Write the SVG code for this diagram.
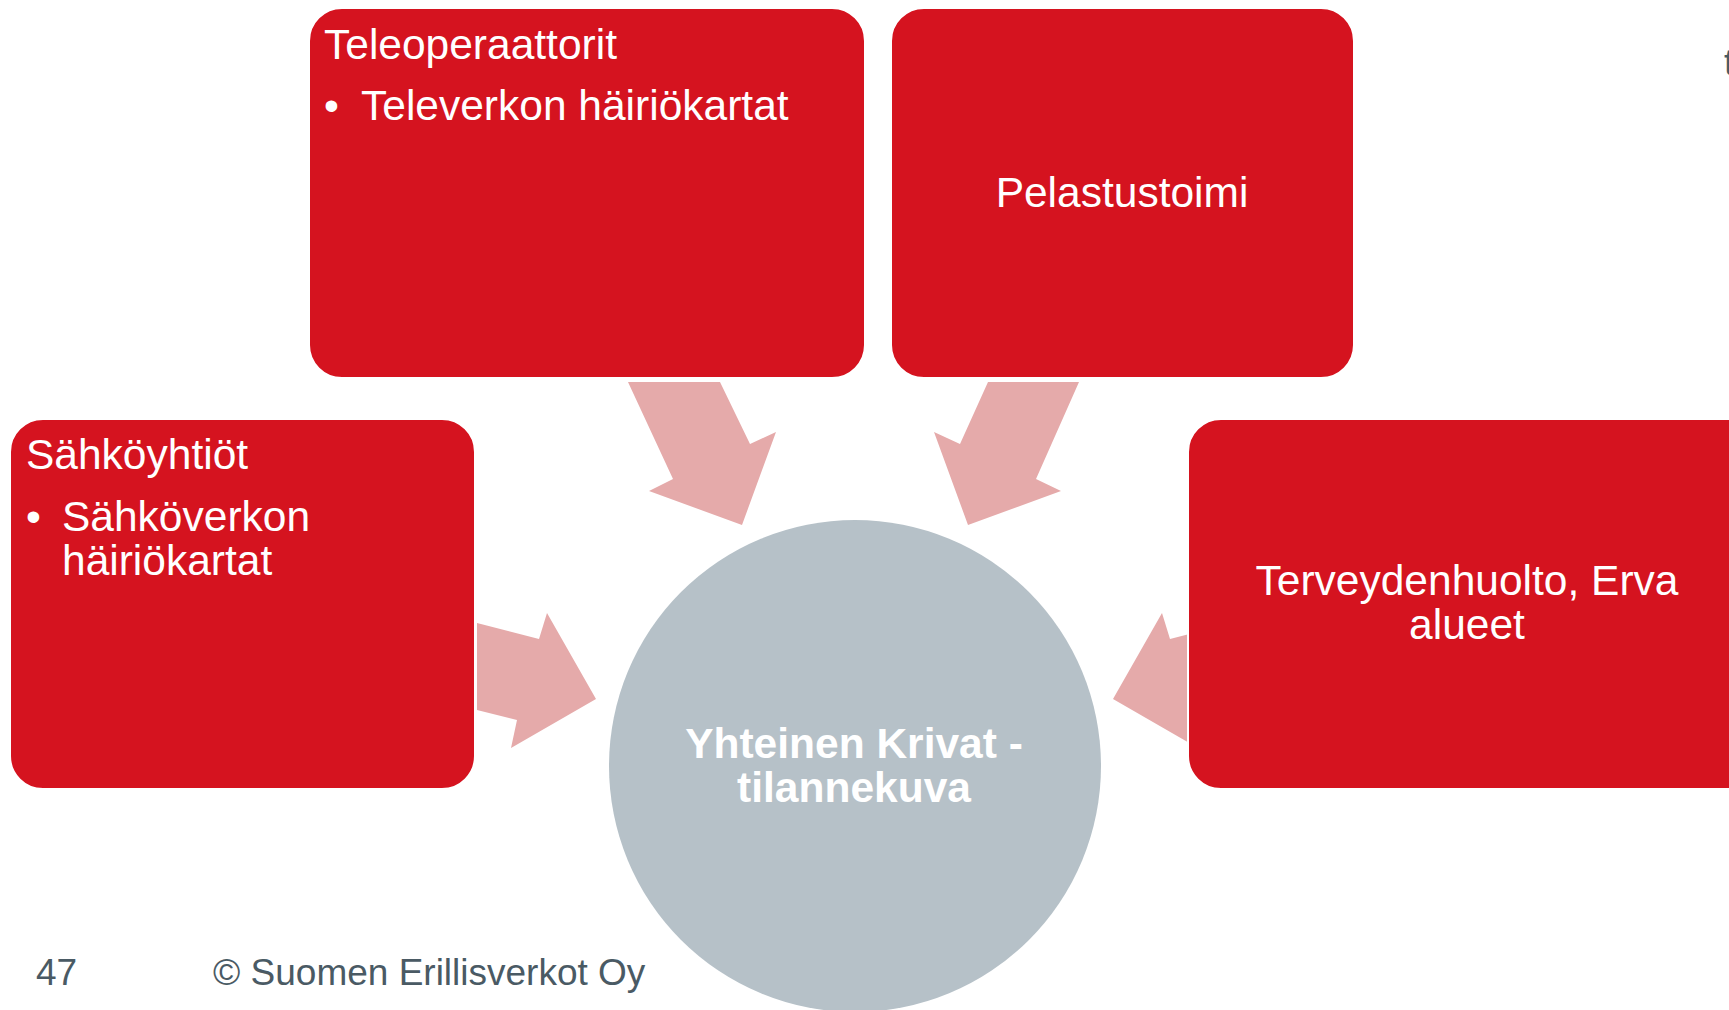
<svg xmlns="http://www.w3.org/2000/svg" width="1729" height="1010" viewBox="0 0 1729 1010">
<style>
.box{fill:#D5131F;stroke:#ffffff;stroke-width:2}
.arrow{fill:#E5AAAA}
.t{font-family:"Liberation Sans",Arial,sans-serif;font-size:42.5px;fill:#ffffff}
.c{font-family:"Liberation Sans",Arial,sans-serif;font-size:42.5px;font-weight:bold;fill:#ffffff}
.f{font-family:"Liberation Sans",Arial,sans-serif;font-size:37px;fill:#4A5A64}
</style>
<rect width="1729" height="1010" fill="#ffffff"/>
<g id="connectors">
<polygon class="arrow" points="628,382 720,382 750,444 776,432 742,525 649,491 673,479"/>
<polygon class="arrow" points="1079,382 988,382 960,444 934,432 968,525 1061,491 1036,479"/>
<polygon class="arrow" points="477,623 539,639 547,613 596,699 511,748 517,720 477,710"/>
<polygon class="arrow" points="1232,623 1170,639 1162,613 1113,699 1198,748 1192,720 1232,710"/>
</g>
<g id="center">
<circle cx="855" cy="766" r="246" fill="#B6C1C8"/>
<text class="c" x="854" y="758" text-anchor="middle">Yhteinen Krivat -</text>
<text class="c" x="854" y="802" text-anchor="middle">tilannekuva</text>
</g>
<g id="teleoperaattorit">
<rect class="box" x="309" y="8" width="556" height="370" rx="33"/>
<text class="t" x="324" y="59">Teleoperaattorit</text>
<text class="t" x="324" y="120">•</text>
<text class="t" x="361" y="120">Televerkon häiriökartat</text>
</g>
<g id="pelastustoimi">
<rect class="box" x="891" y="8" width="463" height="370" rx="33"/>
<text class="t" x="1122" y="207" text-anchor="middle">Pelastustoimi</text>
</g>
<g id="sahkoyhtiot">
<rect class="box" x="10" y="419" width="465" height="370" rx="33"/>
<text class="t" x="26" y="469">Sähköyhtiöt</text>
<text class="t" x="26" y="531">•</text>
<text class="t" x="62" y="531">Sähköverkon</text>
<text class="t" x="62" y="575">häiriökartat</text>
</g>
<g id="terveydenhuolto">
<rect class="box" x="1188" y="419" width="580" height="370" rx="33"/>
<text class="t" x="1467" y="595" text-anchor="middle">Terveydenhuolto, Erva</text>
<text class="t" x="1467" y="639" text-anchor="middle">alueet</text>
</g>
<g id="footer">
<text class="f" x="36" y="985">47</text>
<text class="f" x="213" y="985">© Suomen Erillisverkot Oy</text>
<text class="f" x="1724" y="75" font-size="40">t</text>
</g>
</svg>
